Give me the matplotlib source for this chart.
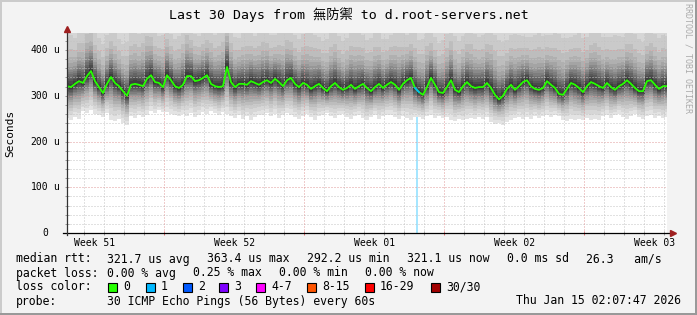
import numpy as np
import matplotlib
matplotlib.use("Agg")
import matplotlib.pyplot as plt
from matplotlib.patches import Rectangle
from matplotlib.transforms import blended_transform_factory

W, H = 697, 315
MONO = "DejaVu Sans Mono"

title = "Last 30 Days from 無防禦 to d.root-servers.net"
week_labels = ["Week 51", "Week 52", "Week 01", "Week 02", "Week 03"]
week_label_days = [1.4, 8.4, 15.4, 22.4, 29.4]
week_start_days = [4.85, 11.85, 18.85, 25.85]
y_ticks = [0, 100, 200, 300, 400]
y_tick_labels = ["0", "100", "200", "300", "400"]
y_tick_units = ["", "u", "u", "u", "u"]

step_days = 0.2  # one sample every 4.8 h
median_us = [321, 319, 326, 332, 328, 343, 354, 332, 319, 306,
             326, 341, 328, 321, 310, 300, 324, 326, 324, 321,
             337, 345, 330, 328, 319, 345, 334, 321, 317, 324,
             343, 343, 332, 334, 339, 345, 326, 321, 319, 321,
             363, 330, 319, 326, 326, 324, 332, 328, 324, 330,
             334, 328, 337, 330, 321, 334, 339, 326, 319, 328,
             324, 315, 321, 326, 317, 310, 321, 328, 319, 313,
             317, 324, 315, 321, 326, 317, 310, 319, 326, 317,
             324, 330, 324, 313, 326, 334, 339, 317, 308, 302,
             319, 339, 324, 308, 306, 319, 334, 313, 308, 321,
             330, 321, 317, 319, 319, 328, 317, 302, 292, 300,
             315, 324, 313, 321, 330, 334, 321, 315, 313, 317,
             332, 324, 317, 304, 302, 315, 328, 324, 317, 308,
             321, 330, 326, 321, 317, 328, 319, 313, 321, 326,
             334, 326, 317, 310, 310, 332, 334, 324, 315, 321,
             321]
low_us = [252, 248, 254, 250, 266, 262, 268, 260, 258, 254,
          262, 248, 244, 250, 241, 236, 256, 252, 258, 254,
          257, 266, 262, 268, 264, 265, 261, 258, 255, 260,
          256, 262, 254, 258, 264, 260, 266, 262, 258, 265,
          261, 256, 252, 258, 250, 255, 248, 254, 257, 258,
          262, 255, 260, 252, 257, 263, 259, 254, 250, 256,
          261, 253, 248, 255, 259, 262, 256, 251, 257, 260,
          254, 249, 255, 258, 252, 246, 253, 257, 250, 255,
          259, 258, 254, 250, 256, 252, 248, 253, 253, 250,
          255, 258, 252, 256, 251, 254, 248, 244, 250, 246,
          249, 252, 249, 254, 250, 253, 242, 238, 240, 237,
          243, 246, 251, 254, 249, 253, 250, 255, 252, 256,
          259, 254, 258, 255, 248, 245, 250, 246, 249, 247,
          251, 246, 250, 248, 255, 259, 252, 257, 261, 254,
          250, 256, 260, 253, 249, 255, 258, 252, 256, 251,
          254]
high_us = [550, 560, 540, 570, 580, 610, 600, 560, 545, 535,
           550, 570, 560, 540, 530, 550, 565, 575, 560, 595,
           605, 585, 555, 545, 560, 570, 550, 540, 560, 580,
           600, 570, 550, 540, 555, 565, 580, 560, 575, 600,
           615, 575, 550, 540, 560, 570, 555, 545, 565, 580,
           570, 550, 540, 560, 575, 590, 565, 550, 540, 555,
           570, 580, 560, 545, 535, 550, 565, 575, 555, 540,
           550, 565, 580, 570, 550, 540, 555, 570, 560, 545,
           535, 550, 565, 580, 560, 545, 555, 570, 550, 560,
           575, 560, 545, 535, 550, 565, 580, 560, 545, 555,
           570, 585, 565, 550, 560, 575, 590, 580, 565, 550,
           540, 555, 570, 560, 545, 535, 550, 565, 580, 560,
           545, 555, 570, 580, 565, 550, 540, 555, 570, 560,
           550, 565, 580, 570, 555, 540, 550, 565, 555, 545,
           560, 575, 565, 550, 540, 555, 570, 560, 550, 560,
           555]
loss_days = [17.5]
loss_pings = [1]

loss_labels = ["0", "1", "2", "3", "4-7", "8-15", "16-29", "30/30"]
loss_colors = ["#26ff00", "#00b8ff", "#0059ff", "#7e00ff",
               "#ff00ff", "#ff5500", "#ff0000", "#a10000"]

rtt_stats = ["321.7 us avg", "363.4 us max", "292.2 us min",
             "321.1 us now", "0.0 ms sd", "26.3   am/s"]
loss_stats = ["0.00 % avg", "0.25 % max", "0.00 % min", "0.00 % now"]
probe_text = "30 ICMP Echo Pings (56 Bytes) every 60s"
stamp = "Thu Jan 15 02:07:47 2026"


def fx(x):
    return x / W


def fy(y):
    return 1 - y / H


fig = plt.figure(figsize=(W / 100, H / 100), dpi=100, facecolor="#f3f3f3")
ax = fig.add_axes([fx(67), fy(233), 600 / W, 200 / H])
ax.set_facecolor("white")
ax.set_xlim(0, 30)
ax.set_ylim(0, 437.2)
for s in ax.spines.values():
    s.set_visible(False)

days = np.arange(len(median_us)) * step_days
med = np.array(median_us, float)
lo = np.array(low_us, float)
hi = np.array(high_us, float)

# 30 sorted pings per sample, spread between min, median and max
pings = []
for r in np.arange(30) / 29:
    if r < 0.5:
        s = (0.5 - r) / 0.5
        pings.append(med - (med - lo) * (0.6 * s + 0.4 * s ** 4))
    else:
        t = (r - 0.5) / 0.5
        pings.append(med + (hi - med) * (0.3 * t + 0.7 * t ** 8))

# loss background
for d, n in zip(loss_days, loss_pings):
    ax.axvspan(d - 0.06, d + 0.06, color=loss_colors[n], alpha=0.35, lw=0, zorder=1)

# smoke
for i in range(1, 16):
    g = int(190 / 15 * (15 - i)) + 50
    ax.fill_between(days, pings[i - 1], pings[30 - i], step="mid",
                    color="#%02x%02x%02x" % (g, g, g), lw=0, zorder=2)

# grid
dot = (0, (1, 2))
for v in range(20, 437, 20):
    if v % 100:
        ax.axhline(v, color="#c4c4c4", lw=0.72, ls=dot, zorder=3)
    else:
        ax.axhline(v, color="#e09a9a", lw=0.72, ls=dot, zorder=3)
for k in range(30):
    d = 0.85 + k
    if any(abs(d - w) < 1e-6 for w in week_start_days):
        continue
    ax.axvline(d, color="#c4c4c4", lw=0.72, ls=dot, zorder=3)
for w in week_start_days:
    ax.axvline(w, color="#e09a9a", lw=0.72, ls=dot, zorder=3)

# ticks
ax.set_xticks(week_start_days)
ax.set_xticks([0.85 + k for k in range(30)], minor=True)
ax.set_yticks(y_ticks)
ax.set_yticks(range(0, 437, 20), minor=True)
ax.tick_params(which="both", labelbottom=False, labelleft=False,
               direction="inout", length=3, width=0.72, color="#9a9a9a")
ax.tick_params(axis="x", which="major", color="#e07070")

# median line
ax.plot(days, med, color=loss_colors[0], lw=1.3, zorder=4, solid_capstyle="butt")
for d, n in zip(loss_days, loss_pings):
    k = int(np.floor(d / step_days))
    ax.plot(days[k:k + 2], med[k:k + 2], color=loss_colors[n], lw=1.3, zorder=5)

# axes with arrows
ax.plot([-0.006, 1.01], [0, 0], transform=ax.transAxes, color="black",
        lw=0.9, clip_on=False, zorder=6)
ax.plot([0, 0], [-0.01, 1.015], transform=ax.transAxes, color="#333333",
        lw=0.9, clip_on=False, zorder=6)
ax.plot([1.01], [0], marker=">", ms=4, color="#9e1f1f", transform=ax.transAxes,
        clip_on=False, zorder=7)
ax.plot([0], [1.02], marker="^", ms=4, color="#9e1f1f", transform=ax.transAxes,
        clip_on=False, zorder=7)

# axis labels
ty = blended_transform_factory(fig.transFigure, ax.transData)
for v, lab, u in zip(y_ticks, y_tick_labels, y_tick_units):
    fig.text(fx(48), v, lab, transform=ty, ha="right", va="center",
             fontsize=7, family=MONO)
    if u:
        fig.text(fx(53.5), v, u, transform=ty, ha="left", va="center",
                 fontsize=7, family=MONO)
tx = blended_transform_factory(ax.transData, fig.transFigure)
for d, lab in zip(week_label_days, week_labels):
    fig.text(d, fy(243), lab, transform=tx, ha="center", va="center",
             fontsize=7, family=MONO)

fig.text(fx(10), fy(133), "Seconds", rotation=90, ha="center", va="center",
         fontsize=8, family=MONO)
fig.text(fx(348.5), fy(15), title, ha="center", va="center", fontsize=9.5,
         family=[MONO, "Noto Sans CJK TC"])
fig.text(fx(688), fy(3), "RRDTOOL / TOBI OETIKER", rotation=270, ha="center",
         va="top", fontsize=6, color="#ababab", family=MONO)

# legend
LF = 8.3
rows_y = [259, 273, 287, 301]
fig.text(fx(16), fy(rows_y[0]), "median rtt:", ha="left", va="center", fontsize=LF, family=MONO)
for x, t in zip([107, 207, 307, 407, 507, 586], rtt_stats):
    fig.text(fx(x), fy(rows_y[0]), t, ha="left", va="center", fontsize=LF, family=MONO)
fig.text(fx(16), fy(rows_y[1]), "packet loss:", ha="left", va="center", fontsize=LF, family=MONO)
for x, t in zip([107, 193, 279, 365], loss_stats):
    fig.text(fx(x), fy(rows_y[1]), t, ha="left", va="center", fontsize=LF, family=MONO)
fig.text(fx(16), fy(rows_y[2]), "loss color:", ha="left", va="center", fontsize=LF, family=MONO)
for x, lab, c in zip([108, 146, 183, 219, 256, 307, 365, 431], loss_labels, loss_colors):
    fig.add_artist(Rectangle((fx(x), fy(rows_y[2] + 4.5)), 9 / W, 9 / H,
                             transform=fig.transFigure, facecolor=c,
                             edgecolor="black", lw=0.8))
    fig.text(fx(x + 15), fy(rows_y[2]), lab, ha="left", va="center", fontsize=LF, family=MONO)
fig.text(fx(16), fy(rows_y[3]), "probe:", ha="left", va="center", fontsize=LF, family=MONO)
fig.text(fx(107), fy(rows_y[3]), probe_text, ha="left", va="center", fontsize=LF, family=MONO)
fig.text(fx(681), fy(rows_y[3]), stamp, ha="right", va="center", fontsize=LF, family=MONO)

# 3d border
for (x0, y0, w, h, c) in [(0, 0, 2, H, "#cbcbcb"), (0, 0, W, 2, "#cbcbcb"),
                          (W - 2, 0, 2, H, "#999999"), (0, H - 2, W, 2, "#999999")]:
    fig.add_artist(Rectangle((fx(x0), fy(y0 + h)), w / W, h / H,
                             transform=fig.transFigure, facecolor=c, lw=0))

fig.savefig("out.png", dpi=100, facecolor=fig.get_facecolor())
